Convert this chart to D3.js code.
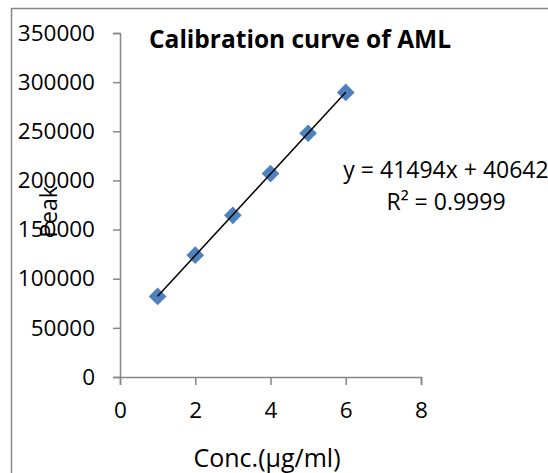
<!DOCTYPE html>
<html>
<head>
<meta charset="utf-8">
<script src="https://cdn.jsdelivr.net/npm/d3@7"></script>
<style>
  body { margin: 0; background: #fff; }
  text { font-family: "Open Sans", sans-serif; fill: #000; }
</style>
</head>
<body>
<div id="chart"></div>
<script>
// data
let concValues = [1, 2, 3, 4, 5, 6]
let peakValues = [82000, 124000, 164500, 207000, 248000, 289500]
let xTickValues = [0, 2, 4, 6, 8]
let yTickValues = [0, 50000, 100000, 150000, 200000, 250000, 300000, 350000]
let fitSlope = 41494, fitIntercept = 40642
let equationText = "y = 41494x + 40642"
let r2Text = "R² = 0.9999"

let width = 548, height = 473
let margin = { top: 33, right: 127, bottom: 96, left: 120 }

let svg = d3.select("#chart")
  .append("svg")
  .attr("width", width)
  .attr("height", height)

// outer frame of the chart
svg.append("path")
  .attr("d", "M11.5," + height + "V8.5H" + width)
  .attr("fill", "none")
  .attr("stroke", "#868686")
  .attr("stroke-width", 1.5)

let x = d3.scaleLinear()
  .domain([0, 8])
  .range([margin.left, width - margin.right])
let y = d3.scaleLinear()
  .domain([0, 350000])
  .range([height - margin.bottom, margin.top])

// Y axis
svg.append("g")
  .attr("transform", "translate(" + margin.left + ",0)")
  .call(d3.axisLeft(y).tickValues(yTickValues).tickSize(7).tickSizeOuter(7).tickPadding(18).tickFormat(d3.format("d")))
// X axis
svg.append("g")
  .attr("transform", "translate(0," + (height - margin.bottom) + ")")
  .call(d3.axisBottom(x).tickValues(xTickValues).tickSize(8).tickSizeOuter(8).tickPadding(17).tickFormat(d3.format("d")))

svg.selectAll(".domain, .tick line")
  .attr("stroke", "#868686")
  .attr("stroke-width", 1.5)
svg.selectAll(".tick text")
  .style("font-family", "'Open Sans', sans-serif")
  .style("font-size", "22.5px")
  .attr("fill", "#000")

// markers (diamonds)
let points = concValues.map((c, i) => ({ conc: c, peak: peakValues[i] }))
svg.selectAll(".dot")
  .data(points)
  .enter()
  .append("path")
  .attr("class", "dot")
  .attr("d", d3.symbol().type(d3.symbolDiamond2).size(200))
  .attr("transform", d => "translate(" + x(d.conc) + "," + y(d.peak) + ")")
  .attr("fill", "#4F81BD")

// trend line
let fitX = d3.extent(concValues)
svg.append("line")
  .attr("x1", x(fitX[0]))
  .attr("y1", y(fitSlope * fitX[0] + fitIntercept))
  .attr("x2", x(fitX[1]))
  .attr("y2", y(fitSlope * fitX[1] + fitIntercept))
  .attr("stroke", "#000")
  .attr("stroke-width", 1.5)

// title
svg.append("text")
  .attr("x", 300)
  .attr("y", 48)
  .attr("text-anchor", "middle")
  .style("font-weight", "bold")
  .style("font-size", "24.5px")
  .text("Calibration curve of AML")

// equation and R squared
svg.append("text")
  .attr("x", 446)
  .attr("y", 178)
  .attr("text-anchor", "middle")
  .style("font-size", "23px")
  .text(equationText)
svg.append("text")
  .attr("x", 446)
  .attr("y", 210)
  .attr("text-anchor", "middle")
  .style("font-size", "23px")
  .text(r2Text)

// axis titles
svg.append("text")
  .attr("x", 267)
  .attr("y", 467)
  .attr("text-anchor", "middle")
  .style("font-size", "25px")
  .text("Conc.(µg/ml)")
svg.append("text")
  .attr("transform", "translate(57,212) rotate(-90)")
  .attr("text-anchor", "middle")
  .style("font-size", "23px")
  .text("Peak")
</script>
</body>
</html>
